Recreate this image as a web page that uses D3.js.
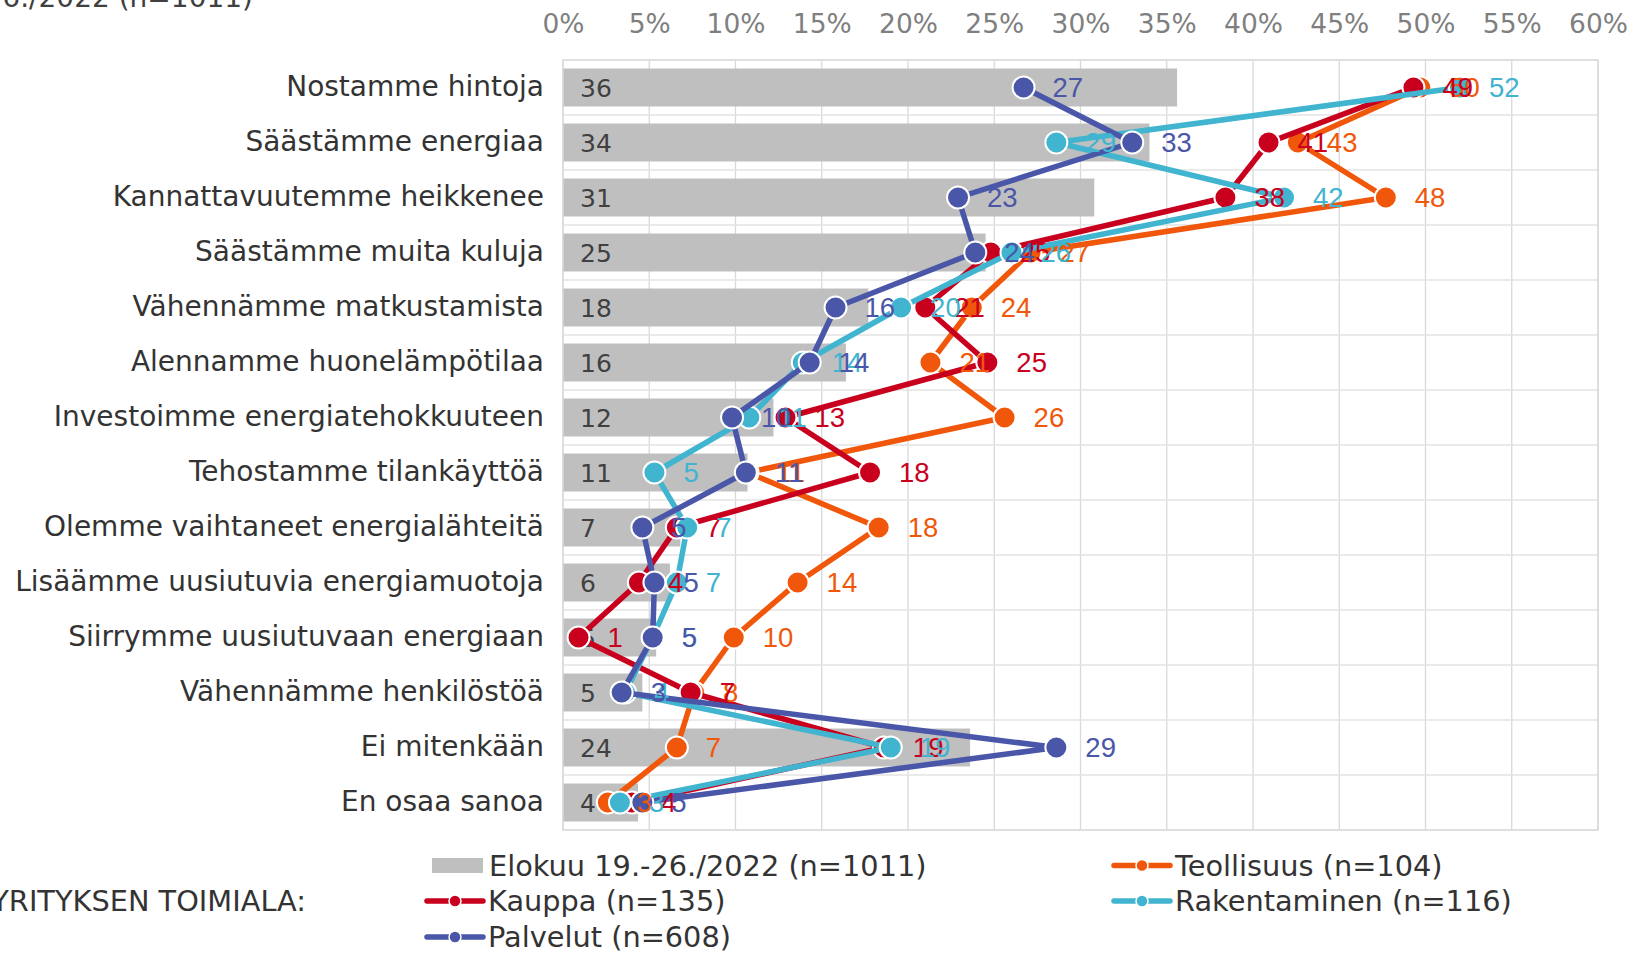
<!DOCTYPE html>
<html>
<head>
<meta charset="utf-8">
<script src="https://cdn.jsdelivr.net/npm/d3@7"></script>
<style>
  body { margin: 0; background: #fff; }
  svg { display: block; }
</style>
</head>
<body>
<script>
// categories (top to bottom)
var categories = [
  "Nostamme hintoja",
  "Säästämme energiaa",
  "Kannattavuutemme heikkenee",
  "Säästämme muita kuluja",
  "Vähennämme matkustamista",
  "Alennamme huonelämpötilaa",
  "Investoimme energiatehokkuuteen",
  "Tehostamme tilankäyttöä",
  "Olemme vaihtaneet energialähteitä",
  "Lisäämme uusiutuvia energiamuotoja",
  "Siirrymme uusiutuvaan energiaan",
  "Vähennämme henkilöstöä",
  "Ei mitenkään",
  "En osaa sanoa"
]

// all companies, bars (%)
var kaikki = [35.6, 34.0, 30.8, 24.5, 17.7, 16.4, 12.2, 10.7, 6.8, 6.2, 5.4, 4.6, 23.6, 4.35]

// industries, lines (%)
var teollisuus   = [49.7, 42.6, 47.7, 27.1, 23.7, 21.3, 25.6, 10.7, 18.3, 13.6, 9.9, 7.6, 6.6, 2.6]
var kauppa       = [49.3, 40.9, 38.4, 24.8, 21.0, 24.6, 12.9, 17.8, 6.6, 4.4, 0.9, 7.4, 18.6, 4.0]
var rakentaminen = [52.0, 28.6, 41.8, 26.0, 19.6, 13.9, 10.8, 5.3, 7.2, 6.6, 5.2, 3.6, 19.0, 3.3]
var palvelut     = [26.7, 33.0, 22.9, 23.9, 15.8, 14.3, 9.8, 10.6, 4.6, 5.3, 5.2, 3.4, 28.6, 4.6]

var xTicks = [0, 5, 10, 15, 20, 25, 30, 35, 40, 45, 50, 55, 60]

var barName = "Elokuu 19.-26./2022 (n=1011)"
var groupTitle = "YRITYKSEN TOIMIALA:"

// drawing order: first at bottom
var series = [
  {name: "Teollisuus (n=104)", values: teollisuus, color: "#f0570a"},
  {name: "Kauppa (n=135)", values: kauppa, color: "#c8001e"},
  {name: "Rakentaminen (n=116)", values: rakentaminen, color: "#41b4cf"},
  {name: "Palvelut (n=608)", values: palvelut, color: "#4a56a8"}
]

var W = 1633, H = 953
var plotL = 563, plotR = 1598, plotT = 60, plotB = 830
var sans = "'DejaVu Sans', Verdana, sans-serif"
var arial = "'Liberation Sans', Arial, sans-serif"

var svg = d3.select("body").append("svg")
  .attr("width", W)
  .attr("height", H)

var x = d3.scaleLinear()
  .domain([0, 60])
  .range([plotL, plotR])

var y = d3.scaleBand()
  .domain(categories)
  .range([plotT, plotB])
  .paddingInner(0.31)
  .paddingOuter(0.155)

var step = y.step()
var mid = function(c) { return y(c) + y.bandwidth() / 2 }

// grid
var grid = svg.append("g")
grid.selectAll("line.v")
  .data(xTicks)
  .join("line")
  .attr("class", "v")
  .attr("x1", d => x(d)).attr("x2", d => x(d))
  .attr("y1", plotT).attr("y2", plotB)
  .attr("stroke", "#d9d9d9")
  .attr("stroke-width", 1.3)

grid.selectAll("line.h")
  .data(d3.range(categories.length + 1))
  .join("line")
  .attr("class", "h")
  .attr("x1", plotL).attr("x2", plotR)
  .attr("y1", d => plotT + d * step).attr("y2", d => plotT + d * step)
  .attr("stroke", "#e3e3e3")
  .attr("stroke-width", 1.3)

// x axis on top
var xAxis = svg.append("g")
  .attr("transform", "translate(0," + plotT + ")")
  .call(d3.axisTop(x).tickValues(xTicks).tickSize(0).tickPadding(27).tickFormat(d => d + "%"))
xAxis.select(".domain").remove()
xAxis.selectAll("text")
  .attr("fill", "#7f7f7f")
  .style("font-family", sans)
  .style("font-size", "26.5px")

// category axis
var yAxis = svg.append("g")
  .attr("transform", "translate(" + plotL + ",0)")
  .call(d3.axisLeft(y).tickSize(0).tickPadding(19))
yAxis.select(".domain").remove()
yAxis.selectAll("text")
  .attr("fill", "#333")
  .style("font-family", sans)
  .style("font-size", "28px")

// bars
svg.append("g")
  .selectAll("rect")
  .data(categories)
  .join("rect")
  .attr("x", x(0))
  .attr("y", d => y(d))
  .attr("width", (d, i) => x(kaikki[i]) - x(0))
  .attr("height", y.bandwidth())
  .attr("fill", "#bfbfbf")

svg.append("g")
  .selectAll("text")
  .data(categories)
  .join("text")
  .attr("x", x(0) + 17)
  .attr("y", d => mid(d))
  .attr("dy", "0.36em")
  .attr("fill", "#404040")
  .style("font-family", sans)
  .style("font-size", "25px")
  .text((d, i) => Math.round(kaikki[i]))

// lines + markers
var line = d3.line()
  .x(d => x(d.v))
  .y(d => mid(d.c))

series.forEach(function(s) {
  var pts = categories.map((c, i) => ({c: c, v: s.values[i]}))
  var g = svg.append("g")
  g.append("path")
    .datum(pts)
    .attr("d", line)
    .attr("fill", "none")
    .attr("stroke", s.color)
    .attr("stroke-width", 5.5)
    .attr("stroke-linejoin", "round")
  g.selectAll("circle")
    .data(pts)
    .join("circle")
    .attr("cx", d => x(d.v))
    .attr("cy", d => mid(d.c))
    .attr("r", 11)
    .attr("fill", s.color)
    .attr("stroke", "#fff")
    .attr("stroke-width", 2)
})

// data labels
series.forEach(function(s) {
  svg.append("g")
    .selectAll("text")
    .data(categories)
    .join("text")
    .attr("x", (d, i) => x(s.values[i]) + 29)
    .attr("y", d => mid(d))
    .attr("dy", "0.36em")
    .attr("fill", s.color)
    .style("font-family", arial)
    .style("font-size", "27.5px")
    .text((d, i) => Math.round(s.values[i]))
})

// plot border
svg.append("rect")
  .attr("x", plotL).attr("y", plotT)
  .attr("width", plotR - plotL).attr("height", plotB - plotT)
  .attr("fill", "none")
  .attr("stroke", "#d9d9d9")
  .attr("stroke-width", 1.3)

// partial title at the very top
svg.append("text")
  .attr("x", 253).attr("y", 7)
  .attr("text-anchor", "end")
  .attr("fill", "#404040")
  .style("font-family", sans)
  .style("font-size", "28px")
  .text(barName)

// legend
var legend = svg.append("g")
  .style("font-family", sans)
  .style("font-size", "28.8px")
  .attr("fill", "#333")

var legendRows = [865.5, 901, 937]

legend.append("rect")
  .attr("x", 432).attr("y", legendRows[0] - 7.5)
  .attr("width", 51).attr("height", 15)
  .attr("fill", "#bfbfbf")
legend.append("text")
  .attr("x", 489).attr("y", legendRows[0])
  .attr("dy", "0.36em")
  .text(barName)

legend.append("text")
  .attr("x", 306).attr("y", legendRows[1])
  .attr("dy", "0.36em")
  .attr("text-anchor", "end")
  .text(groupTitle)

var legendPos = [
  {x: 1114, row: 0},
  {x: 427, row: 1},
  {x: 1114, row: 1},
  {x: 427, row: 2}
]

series.forEach(function(s, i) {
  var p = legendPos[i]
  var ly = legendRows[p.row]
  legend.append("line")
    .attr("x1", p.x).attr("x2", p.x + 56)
    .attr("y1", ly).attr("y2", ly)
    .attr("stroke", s.color)
    .attr("stroke-width", 5.5)
    .attr("stroke-linecap", "round")
  legend.append("circle")
    .attr("cx", p.x + 28).attr("cy", ly)
    .attr("r", 6)
    .attr("fill", s.color)
    .attr("stroke", "#fff")
    .attr("stroke-width", 1.5)
  legend.append("text")
    .attr("x", p.x + 61).attr("y", ly)
    .attr("dy", "0.36em")
    .text(s.name)
})
</script>
</body>
</html>
